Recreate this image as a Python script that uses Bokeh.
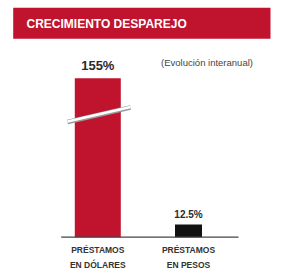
from bokeh.plotting import figure
from bokeh.models import Range1d, ColumnDataSource
from bokeh.core.properties import value
from bokeh.embed import file_html
from bokeh.resources import INLINE

# ---- data ----
categories = ["PRÉSTAMOS\nEN DÓLARES", "PRÉSTAMOS\nEN PESOS"]
growth = [155, 12.5]
value_labels = ["155%", "12.5%"]
title_text = "CRECIMIENTO DESPAREJO"
subtitle_text = "(Evolución interanual)"

# ---- layout (style/positions) ----
W, H = 276, 273
PX = 1.026           # screen px per unit of growth
BASE = 236.7         # page y of baseline
def Y(page_y):
    return (BASE - page_y) / PX
def X(page_x):
    return page_x

bar_x = [X(97.3), X(188)]
bar_w = [46, 27]
bar_colors = ["#c0132d", "#111111"]
label_off = [13 / PX, 9.5 / PX]
label_size = ["13px", "10px"]

p = figure(width=W, height=H, output_backend="svg", toolbar_location=None,
           x_range=Range1d(0, W), y_range=Range1d(Y(H), Y(0)),
           min_border=0, outline_line_color=None)
p.axis.visible = False
p.grid.visible = False
p.background_fill_color = "white"
p.border_fill_color = "white"

# banner
p.quad(left=X(12.7), right=X(270), bottom=Y(38.3), top=Y(7.3),
       fill_color="#c0132d", line_color=None)
p.text(x=[X(26)], y=[Y(23.5)], text=[title_text], text_color="white",
       text_font=value("Liberation Sans"), text_font_style="bold",
       text_font_size="12px", text_baseline="middle", text_align="left")

# subtitle
p.text(x=[X(206.5)], y=[Y(62)], text=[subtitle_text], text_color="#444444",
       text_font=value("Liberation Sans"), text_font_size="9.5px",
       text_baseline="middle", text_align="center")

src = ColumnDataSource(dict(x=bar_x, top=growth, w=bar_w, color=bar_colors,
                            lab=value_labels,
                            ly=[g + o for g, o in zip(growth, label_off)],
                            cat=categories))
p.vbar(x="x", top="top", bottom=0, width="w", fill_color="color",
       line_color=None, source=src)

# axis break marker on tall bar
p.line(x=[X(67), X(130)], y=[Y(121.5), Y(107)], line_color="#9a9a9a", line_width=4.5)
p.line(x=[X(67), X(130)], y=[Y(121), Y(106.5)], line_color="white", line_width=2.5)

# baseline
p.line(x=[X(60.7), X(238)], y=[0, 0], line_color="#444444", line_width=1.2)

# value labels
for i in range(len(growth)):
    p.text(x=[bar_x[i]], y=[src.data["ly"][i]], text=[value_labels[i]],
           text_color="#2a2a2a", text_font=value("Liberation Sans"),
           text_font_style="bold", text_font_size=label_size[i],
           text_baseline="middle", text_align="center")

# category labels
p.text(x="x", y=Y(244.5), text="cat", source=src, text_color="#333333",
       text_font=value("Liberation Sans"), text_font_style="bold",
       text_font_size="8.5px", text_baseline="top", text_align="center",
       text_line_height=1.5)

open("out.html", "w").write(file_html(p, INLINE))
